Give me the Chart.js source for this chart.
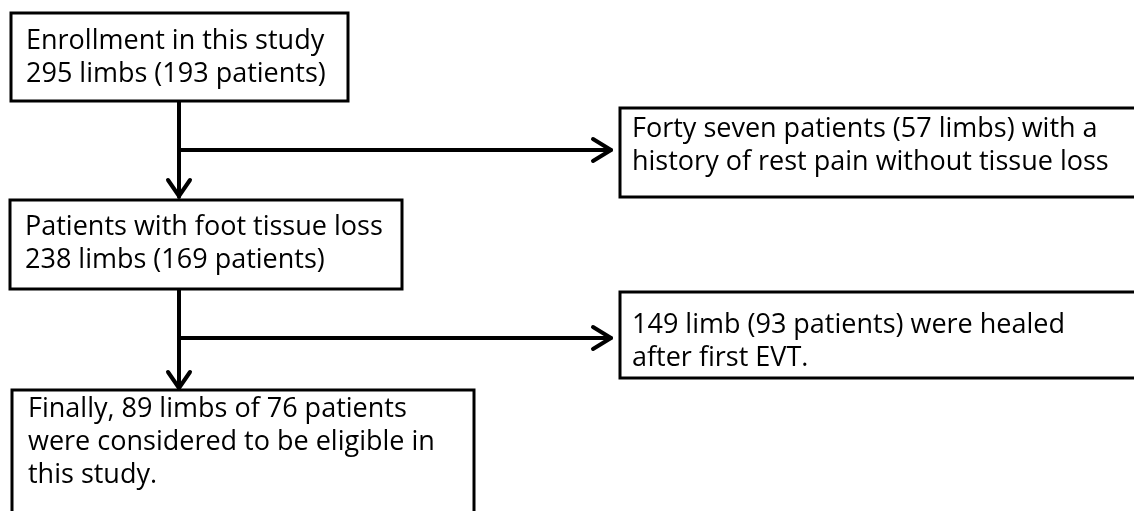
<!DOCTYPE html>
<html>
<head>
<meta charset="utf-8">
<script src="https://cdn.jsdelivr.net/npm/chart.js@4.4.1/dist/chart.umd.min.js"></script>
<style>
html,body{margin:0;padding:0;background:#fff;}
#wrap{width:1134px;height:511px;}
</style>
</head>
<body>
<div id="wrap"><canvas id="c" width="1134" height="511"></canvas></div>
<script>
// ---- content (text of each step) ----
const stepEnrollment = ["Enrollment in this study", "295 limbs (193 patients)"];
const stepExcluded1  = ["Forty seven patients (57 limbs) with a", "history of rest pain without tissue loss"];
const stepTissueLoss = ["Patients with foot tissue loss", "238 limbs (169 patients)"];
const stepExcluded2  = ["149 limb (93 patients) were healed", "after first EVT."];
const stepFinal      = ["Finally, 89 limbs of 76 patients", "were considered to be eligible in", "this study."];

// ---- layout (in scale units, canvas-like coordinates) ----
const boxLayout = [
  {lines: stepEnrollment, x0: 11,  y0: 13,  x1: 348,  y1: 101, tx: 26,  ty: 49},
  {lines: stepExcluded1,  x0: 620, y0: 108, x1: 1145, y1: 197, tx: 632, ty: 137},
  {lines: stepTissueLoss, x0: 10,  y0: 200, x1: 402,  y1: 289, tx: 25,  ty: 235},
  {lines: stepExcluded2,  x0: 620, y0: 292, x1: 1145, y1: 378, tx: 632, ty: 333},
  {lines: stepFinal,      x0: 12,  y0: 390, x1: 474,  y1: 530, tx: 28,  ty: 417}
];
const lineGap = 33;

const connectors = [
  [{x:179,y:101},{x:179,y:197}],
  [{x:179,y:150},{x:611,y:150}],
  [{x:179,y:289},{x:179,y:388}],
  [{x:179,y:338},{x:611,y:338}]
];
const arrowHeads = [
  [{x:168,y:180},{x:179,y:196},{x:190,y:180}],
  [{x:593,y:139},{x:611,y:150},{x:593,y:161}],
  [{x:168,y:372},{x:179,y:388},{x:190,y:372}],
  [{x:593,y:327},{x:611,y:338},{x:593,y:349}]
];

const datasets = [];
connectors.concat(arrowHeads).forEach(pts => {
  datasets.push({
    data: pts, showLine: true, borderColor: '#000', borderWidth: 4,
    pointRadius: 0, fill: false, tension: 0,
    borderCapStyle: 'round', borderJoinStyle: 'round'
  });
});

const boxPlugin = {
  id: 'boxes',
  afterDatasetsDraw(chart) {
    const ctx = chart.ctx, xs = chart.scales.x, ys = chart.scales.y;
    ctx.save();
    boxLayout.forEach(b => {
      const X0 = xs.getPixelForValue(b.x0), X1 = xs.getPixelForValue(b.x1);
      const Y0 = ys.getPixelForValue(b.y0), Y1 = ys.getPixelForValue(b.y1);
      ctx.fillStyle = '#fff';
      ctx.fillRect(X0, Y0, X1 - X0, Y1 - Y0);
      ctx.strokeStyle = '#000';
      ctx.lineWidth = 3;
      ctx.strokeRect(X0, Y0, X1 - X0, Y1 - Y0);
      ctx.fillStyle = '#000';
      ctx.font = '27px "Open Sans"';
      ctx.textBaseline = 'alphabetic';
      ctx.textAlign = 'left';
      b.lines.forEach((t, i) => {
        ctx.fillText(t, xs.getPixelForValue(b.tx), ys.getPixelForValue(b.ty + i * lineGap));
      });
    });
    ctx.restore();
  }
};

new Chart(document.getElementById('c'), {
  type: 'scatter',
  data: { datasets },
  options: {
    responsive: false,
    devicePixelRatio: 1,
    animation: false,
    layout: { padding: 0 },
    plugins: { legend: { display: false }, tooltip: { enabled: false } },
    scales: {
      x: { type: 'linear', min: 0, max: 1134, display: false },
      y: { type: 'linear', min: 0, max: 511, reverse: true, display: false }
    }
  },
  plugins: [boxPlugin]
});
</script>
</body>
</html>
